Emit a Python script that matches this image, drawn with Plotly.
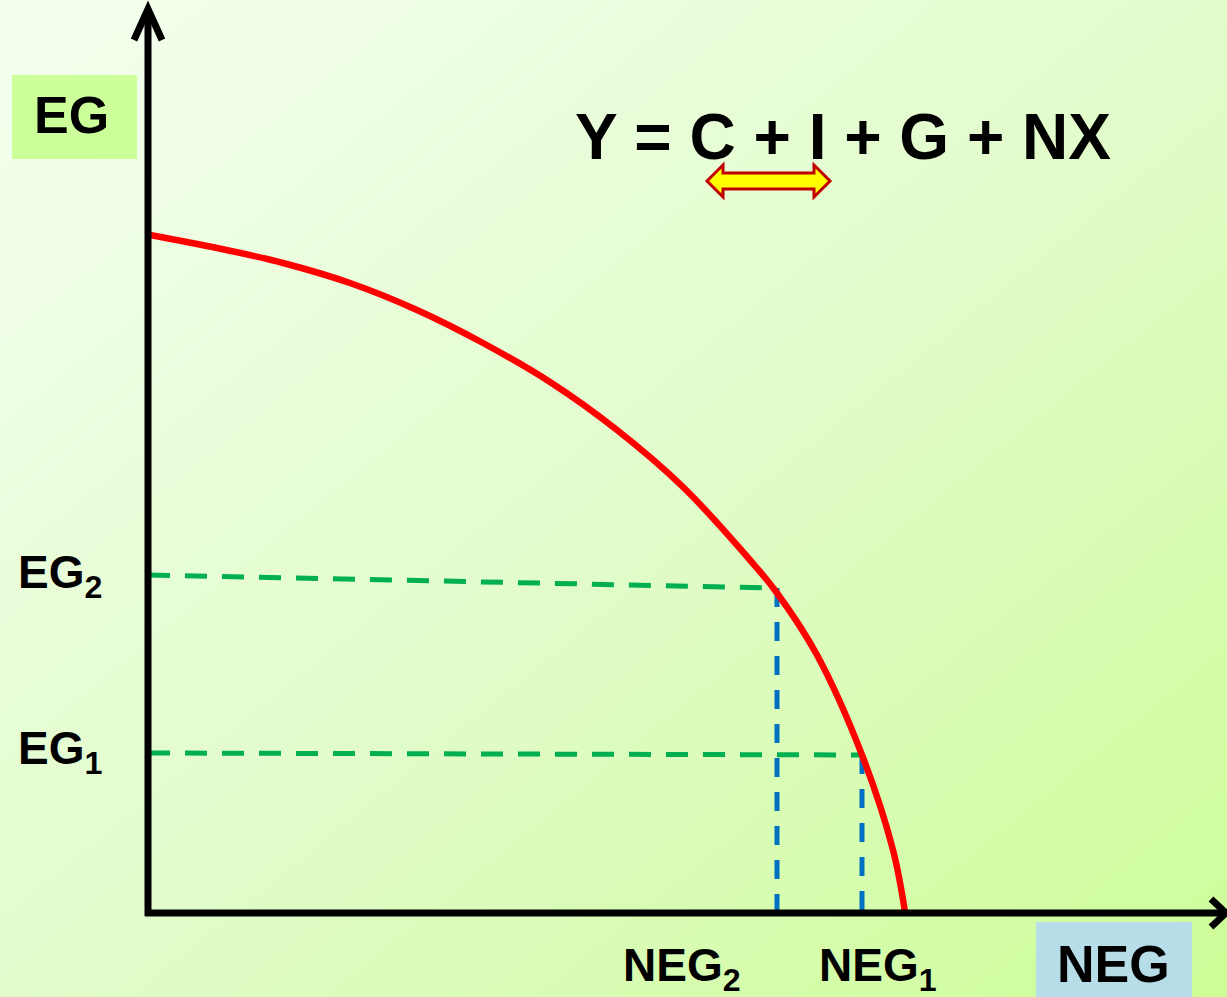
import numpy as np
import plotly.graph_objects as go

# ---- data (units: NEG on x, EG on y; origin at the axes corner) ----
ppf_neg = [2, 69, 135, 202, 269, 335, 402, 469, 535, 602, 629, 669, 714, 745, 757]
ppf_eg = [678, 665, 650, 630, 603, 570, 531, 483, 426, 353, 320, 258, 158, 63, 1]

neg_points = [629, 714]          # NEG2, NEG1
eg_points = [325, 158]           # EG2, EG1 on the curve
eg_axis_start = [338, 160]       # where the green guides leave the EG axis
neg_labels = ["NEG<sub>2</sub>", "NEG<sub>1</sub>"]
eg_labels = ["EG<sub>2</sub>", "EG<sub>1</sub>"]
equation = "Y = C + I + G + NX"

W, H = 1227, 997
OX, OY = 148, 913  # pixel position of origin


def P(px, py):
    """pixel -> data coords"""
    return px - OX, OY - py


FONT = "Liberation Sans, Arial, sans-serif"
fig = go.Figure()

# background gradient
gx = np.linspace(-OX, W - OX, 60)
gy = np.linspace(OY - H, OY, 50)
GX, GY = np.meshgrid((gx + OX) / W, (OY - gy) / H)
fig.add_trace(go.Heatmap(
    x=gx, y=gy, z=(GX + GY) / 2, zmin=0, zmax=1, zsmooth="best",
    colorscale=[[0, "#f5fff0"], [0.5, "#e2fccc"], [1, "#cdfd98"]],
    showscale=False, hoverinfo="skip"))

# green horizontal guides
for x_end, y0, y1 in zip(neg_points, eg_axis_start, eg_points):
    fig.add_trace(go.Scatter(x=[0, x_end], y=[y0, y1], mode="lines",
                             line=dict(color="#00b050", width=5, dash="22px,15px"),
                             hoverinfo="skip"))
# blue vertical guides
for x, y in zip(neg_points, eg_points):
    fig.add_trace(go.Scatter(x=[x, x], y=[y, 0], mode="lines",
                             line=dict(color="#0070c0", width=5, dash="19px,15px"),
                             hoverinfo="skip"))

# PPF curve
fig.add_trace(go.Scatter(x=ppf_neg, y=ppf_eg, mode="lines",
                         line=dict(color="#ff0000", width=6.5, shape="spline", smoothing=1.0),
                         hoverinfo="skip"))

shapes = []
# axes
ax_line = dict(color="black", width=7)
shapes.append(dict(type="line", xref="x", yref="y", x0=0, y0=-3, x1=0, y1=OY - 10, line=ax_line, layer="above"))
shapes.append(dict(type="line", xref="x", yref="y", x0=-3, y0=0, x1=W - OX - 4, y1=0, line=ax_line, layer="above"))
# arrow heads (open chevrons)
a = P(134, 40); t = P(148, 9); b = P(162, 40)
shapes.append(dict(type="path", xref="x", yref="y",
                   path=f"M{a[0]},{a[1]} L{t[0]},{t[1]} L{b[0]},{b[1]}",
                   line=dict(color="black", width=7), layer="above"))
a = P(1211, 899); t = P(1226, 913); b = P(1211, 927)
shapes.append(dict(type="path", xref="x", yref="y",
                   path=f"M{a[0]},{a[1]} L{t[0]},{t[1]} L{b[0]},{b[1]}",
                   line=dict(color="black", width=7), layer="above"))

# label boxes
x0, y0 = P(12, 75); x1, y1 = P(137, 159)
shapes.append(dict(type="rect", xref="x", yref="y", x0=x0, y0=y0, x1=x1, y1=y1,
                   fillcolor="#ccff99", line=dict(width=0), layer="above"))
x0, y0 = P(1036, 922); x1, y1 = P(1192, 1000)
shapes.append(dict(type="rect", xref="x", yref="y", x0=x0, y0=y0, x1=x1, y1=y1,
                   fillcolor="#b7dee8", line=dict(width=0), layer="above"))

# double arrow under "C + I"
pts = [(707, 181), (723, 165), (723, 173), (814, 173), (814, 165), (830, 181),
       (814, 197), (814, 189), (723, 189), (723, 197)]
path = "M" + " L".join(f"{P(*p)[0]},{P(*p)[1]}" for p in pts) + " Z"
shapes.append(dict(type="path", xref="x", yref="y", path=path,
                   fillcolor="#ffff00", line=dict(color="#c00000", width=3), layer="above"))

annotations = []


def label(px, py, text, size, xanchor="center"):
    x, y = P(px, py)
    annotations.append(dict(x=x, y=y, xref="x", yref="y", text=f"<b>{text}</b>",
                            showarrow=False, xanchor=xanchor, yanchor="middle",
                            font=dict(family=FONT, size=size, color="black")))


label(71, 115, "EG", 52)
label(1113, 964, "NEG", 52)
label(843, 137, equation, 64)
for txt, py in zip(eg_labels, [575, 751]):
    label(16, py, txt, 46, "left")
for txt, px in zip(neg_labels, [621, 817]):
    label(px, 968, txt, 46, "left")

fig.update_layout(
    width=W, height=H, margin=dict(l=0, r=0, t=0, b=0),
    showlegend=False, paper_bgcolor="#e4fdd2", plot_bgcolor="#e4fdd2",
    xaxis=dict(range=[-OX, W - OX], visible=False, fixedrange=True),
    yaxis=dict(range=[OY - H, OY], visible=False, fixedrange=True),
    shapes=shapes, annotations=annotations,
)
fig.write_html("out.html", config={"displayModeBar": False},
               post_script="document.body.style.margin='0';document.body.style.overflow='hidden';")
